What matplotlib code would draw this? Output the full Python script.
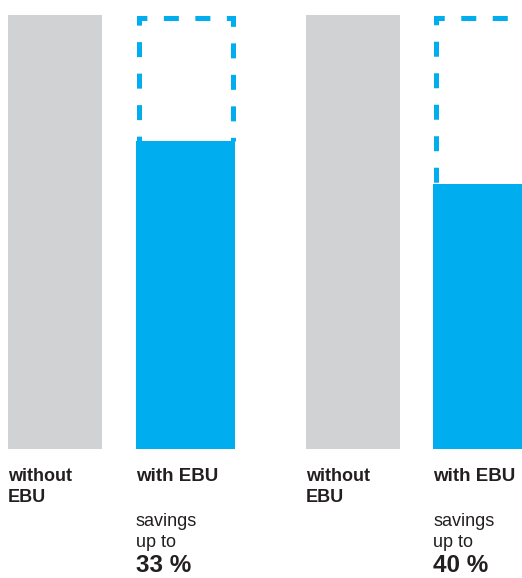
import numpy as np
import matplotlib.pyplot as plt
from matplotlib.transforms import blended_transform_factory

# data
without_vals = [100, 100]
with_vals = [71, 61]
without_label = ['without', 'EBU']
with_label = ['with EBU']
savings_text = ['savings', 'up to']
savings_pct = ['33 %', '40 %']

GRAY = '#d1d2d4'
BLUE = '#00aeef'
TXT = '#231f20'

plt.rcParams['font.family'] = ['Liberation Sans', 'DejaVu Sans']

W, H = 522, 578
fig = plt.figure(figsize=(W / 100, H / 100), dpi=100)
ax = fig.add_axes([0, 129 / H, 1, 434 / H])
ax.set_xlim(0, W)
ax.set_ylim(0, 100)
ax.axis('off')

px_per_unit = 434 / 100
gray_left = [8, 306]
blue_left = [136, 433]
gray_w, blue_w = 94, 99
lw_px = 5
lw_pt = lw_px * 72 / 100
dash_px, gap_px = 15, 16.5

ax.bar(gray_left, without_vals, width=gray_w, align='edge', color=GRAY)
ax.bar(blue_left, with_vals, width=blue_w, align='edge', color=BLUE)

# dashed outline showing the height without EBU
for left, val, full in zip(blue_left, with_vals, without_vals):
    xl = left + lw_px / 2
    xr = left + blue_w - lw_px / 2
    top = full - (lw_px / 2) / px_per_unit
    L1 = (top - val) * px_per_unit
    off = (dash_px / 2 - L1) % (dash_px + gap_px)
    ax.plot([xl, xl, xr, xr], [val, top, top, val], color=BLUE, lw=lw_pt,
            linestyle=(off / lw_px, (dash_px / lw_px, gap_px / lw_px)),
            dash_joinstyle='miter', dash_capstyle='butt')

tr = blended_transform_factory(ax.transData, fig.transFigure)

def fy(px):
    return (H - px) / H

for gl, bl, pct in zip(gray_left, blue_left, savings_pct):
    for i, line in enumerate(without_label):
        ax.text(gl, fy(481 + 21 * i), line, transform=tr, fontsize=13,
                fontweight='bold', color=TXT, va='baseline', ha='left')
    ax.text(bl, fy(481), with_label[0], transform=tr, fontsize=13.5,
            fontweight='bold', color=TXT, va='baseline', ha='left')
    for i, line in enumerate(savings_text):
        ax.text(bl, fy(526 + 21 * i), line, transform=tr, fontsize=13,
                color=TXT, va='baseline', ha='left')
    ax.text(bl, fy(572), pct, transform=tr, fontsize=17.5,
            fontweight='bold', color=TXT, va='baseline', ha='left')

plt.savefig('out.png', dpi=100)
